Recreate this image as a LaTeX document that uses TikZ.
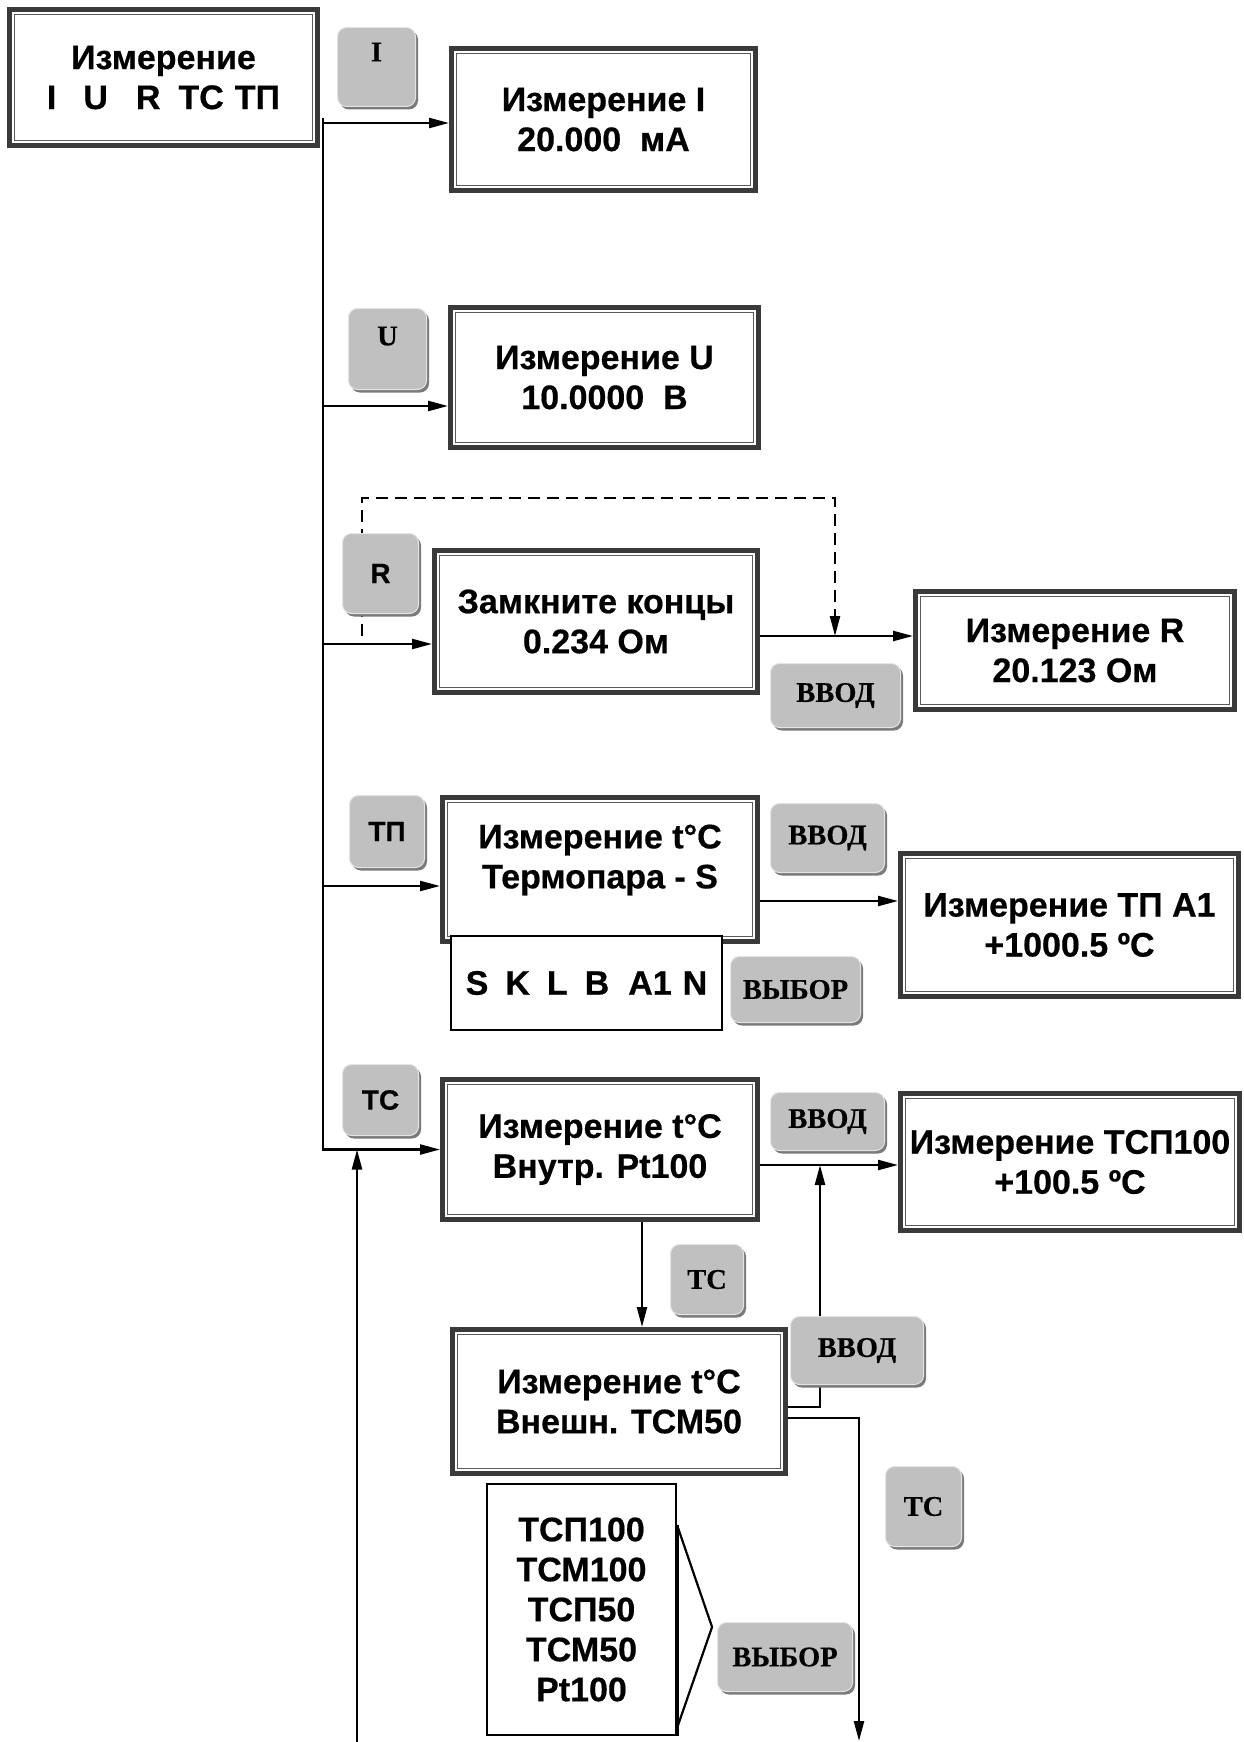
\documentclass[tikz,border=0pt]{standalone}
\usepackage{fontspec}
\setmainfont{Liberation Sans}[BoldFeatures={FakeBold=0.5}]
\newfontfamily\serifface{Liberation Serif}[BoldFeatures={FakeBold=0.4}]
\usetikzlibrary{arrows.meta,shadows,calc}
\definecolor{boxdark}{HTML}{3A3A3A}
\definecolor{boxinner}{HTML}{5A5A5A}
\definecolor{btnfill}{HTML}{C0C0C0}
\definecolor{btnshadow}{HTML}{7A7A7A}
\definecolor{btnlight}{HTML}{E4E4E4}
\newcommand\boxfont{\fontsize{34}{40}\selectfont\bfseries}
\newcommand\serifbtn{\serifface\bfseries\fontsize{28.5}{30}\selectfont}
\newcommand\sansbtn{\bfseries\fontsize{28}{30}\selectfont}
\tikzset{
  dbox/.style={draw=boxdark, line width=5pt, fill=white, inner sep=0pt, align=center, font=\boxfont},
  dinner/.style={draw=boxinner, line width=1.3pt},
  listbox/.style={draw=black, line width=1.6pt, fill=white, inner sep=0pt, align=center, font=\boxfont},
  txt/.style={inner sep=0pt, align=center, font=\boxfont},
  btn/.style={fill=btnfill, draw=btnlight, line width=1pt, rounded corners=9pt, inner sep=0pt,
    drop shadow={shadow xshift=2.5pt, shadow yshift=-3pt, fill=btnshadow, opacity=1}},
  arr/.style={line width=2.3pt, -{Triangle[length=20pt,width=10pt]}},
  ln/.style={line width=2.3pt}
}
\newcommand\DBox[6]{%
  \pgfmathsetmacro\bcx{(#2+#4)/2}\pgfmathsetmacro\bcy{(#3+#5)/2-2}%
  \pgfmathsetmacro\bww{#4-#2-5}\pgfmathsetmacro\bhh{#5-#3-5}%
  \node[dbox, minimum width=\bww pt, minimum height=\bhh pt] (#1) at (\bcx,\bcy+2) {#6};
  \draw[dinner] ([shift={(7.5pt,-7.5pt)}]#1.north west) rectangle ([shift={(-7.5pt,7.5pt)}]#1.south east);
}
\newcommand\Btn[6]{%
  \pgfmathsetmacro\bcx{(#2+#4)/2}\pgfmathsetmacro\bcy{(#3+#5)/2}%
  \pgfmathsetmacro\bww{#4-#2-1}\pgfmathsetmacro\bhh{#5-#3-1}%
  \node[btn, minimum width=\bww pt, minimum height=\bhh pt] (#1) at (\bcx,\bcy) {#6};
}
\begin{document}
\begin{tikzpicture}[x=1pt,y=-1pt]
\useasboundingbox (0,0) rectangle (1243,1742);
% ---- boxes
\DBox{main}{7}{7}{320}{148}{Измерение\\I\hspace{27pt}U\hspace{28pt}R\hspace{18pt}ТС\hspace{11pt}ТП}
\DBox{bI}{449}{46}{758}{193}{Измерение I\\20.000\ \ мА}
\DBox{bU}{448}{305}{761}{450}{Измерение U\\10.0000\ \ В}
\DBox{bRa}{432}{548}{760}{695}{Замкните концы\\0.234 Ом}
\DBox{bRb}{913}{589}{1237}{712}{Измерение R\\20.123 Ом}
\DBox{bTP}{440}{795}{760}{944}{}
\node[txt] (tTP) at (600,860) {Измерение t°C\\Термопара - S};
\node[listbox, minimum width=271.5pt, minimum height=94.5pt] (lTP) at (586.5,983) {S\hspace{17pt}K\hspace{17pt}L\hspace{17pt}B\hspace{19pt}A1\hspace{11pt}N};
\DBox{bTPA}{898}{851}{1241}{999}{Измерение ТП A1\\+1000.5 ºC}
\DBox{bTC}{440}{1077}{760}{1222}{Измерение t°C\\Внутр. Pt100}
\DBox{bTSP}{898}{1091}{1242}{1233}{Измерение ТСП100\\+100.5 ºC}
\DBox{bExt}{450}{1327}{788}{1476}{Измерение t°C\\Внешн. ТСМ50}
\node[listbox, minimum width=189.5pt, minimum height=251.5pt] (lTC) at (581.5,1609.5) {ТСП100\\ТСМ100\\ТСП50\\ТСМ50\\Pt100};
\draw[line width=3.2pt] ([yshift=84.5pt]lTC.east) -- (lTC.south east);
\draw[line width=2.2pt, line join=miter] ([yshift=84.5pt]lTC.east) -- ([xshift=35pt,yshift=-17.5pt]lTC.east) -- ([yshift=-118.5pt]lTC.east);
% ---- connectors
\coordinate (busTop) at (323,118);
\draw[arr] (busTop) |- (bTC.west);
\draw[arr] ([yshift=-3.5pt]bI.west -| busTop) -- ([yshift=-3.5pt]bI.west);
\draw[arr] ([yshift=-28.5pt]bU.west -| busTop) -- ([yshift=-28.5pt]bU.west);
\draw[arr] ([yshift=-22.5pt]bRa.west -| busTop) -- ([yshift=-22.5pt]bRa.west);
\draw[arr] ([yshift=-16.5pt]bTP.west -| busTop) -- ([yshift=-16.5pt]bTP.west);
\draw[arr] ([yshift=14.5pt]bRb.west -| bRa.east) -- ([yshift=14.5pt]bRb.west);
\coordinate (dA) at (362,636);
\coordinate (dTop) at (600,498);
\coordinate (dB) at (835,636);
\draw[arr, dash pattern=on 12pt off 7pt] (dA) |- (dTop) -| (dB);
\draw[arr] ([yshift=24pt]bTPA.west -| bTP.east) -- ([yshift=24pt]bTPA.west);
\draw[arr] ([yshift=-3pt]bTSP.west -| bTC.east) -- ([yshift=-3pt]bTSP.west);
\coordinate (upB) at (357,1745);
\draw[arr] (upB) -- (upB |- bTC.west);
\draw[arr] ([xshift=42pt]bTC.south) -- ([xshift=42pt]bTC.south |- bExt.north);
\coordinate (jUp) at (820,1165);
\draw[arr] ([yshift=-5.5pt]bExt.east) -| (jUp);
\coordinate (jDown) at (859,1741);
\draw[arr] ([yshift=-16.5pt]bExt.east) -| (jDown);
% ---- buttons
\Btn{kI}{337}{27}{416}{107}{\serifbtn\raisebox{30pt}{I}}
\Btn{kU}{348}{308}{427}{390}{\serifbtn\raisebox{26pt}{U}}
\Btn{kR}{342}{533}{419}{614}{\sansbtn R}
\Btn{kTP}{349}{795}{425}{868}{\sansbtn ТП}
\Btn{kTC}{342}{1064}{419}{1136}{\sansbtn ТС}
\Btn{kEnR}{770}{663}{901}{728}{\serifbtn ВВОД}
\Btn{kEnTP}{770}{803}{885}{873}{\serifbtn ВВОД}
\Btn{kSelTP}{730}{956}{861}{1023}{\serifbtn ВЫБОР}
\Btn{kEnTC}{770}{1092}{885}{1151}{\serifbtn ВВОД}
\Btn{kTCm}{670}{1244}{744}{1315}{\serifbtn ТС}
\Btn{kEnX}{790}{1316}{924}{1385}{\serifbtn ВВОД}
\Btn{kTCr}{885}{1466}{962}{1547}{\serifbtn ТС}
\Btn{kSelTC}{717}{1622}{853}{1692}{\serifbtn ВЫБОР}
\end{tikzpicture}
\end{document}
